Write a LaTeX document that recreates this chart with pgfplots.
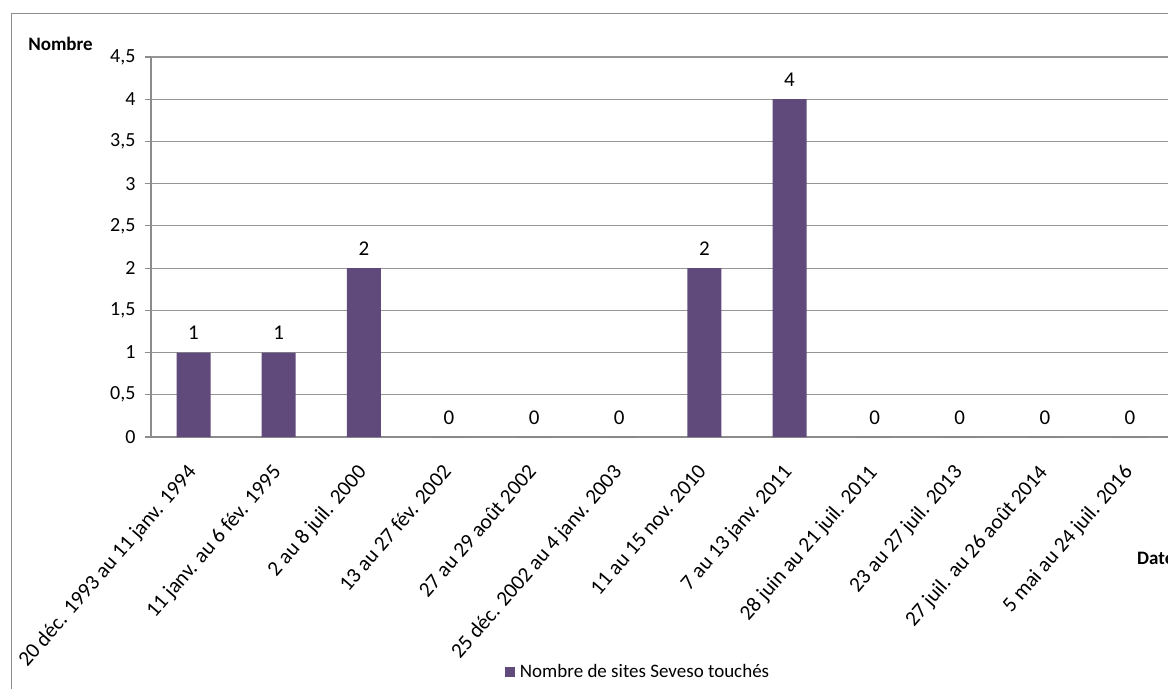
\documentclass[border=0pt]{standalone}
\usepackage{pgfplots}
\pgfplotsset{compat=1.18}
\usepackage{pgfplotstable}
\usepackage{fontspec}
\setmainfont{Carlito}

\definecolor{barpurple}{HTML}{604A7B}
\definecolor{axisgray}{HTML}{8C8C8C}
\definecolor{gridgray}{HTML}{969696}
\newcommand\chartfont{\fontsize{19bp}{23bp}\selectfont}
\newcommand\ytickfont{\fontsize{20bp}{24bp}\selectfont}
\newcommand\xtickfont{\fontsize{21.3bp}{25bp}\selectfont}
\newcommand\valuefont{\fontsize{21bp}{25bp}\selectfont}

% Number of Seveso sites affected, one row per flood episode
\pgfplotstableread{
idx value
0 1
1 1
2 2
3 0
4 0
5 0
6 2
7 4
8 0
9 0
10 0
11 0
}\seveso

\begin{document}
\begin{tikzpicture}
\useasboundingbox (0bp,0bp) rectangle (1168bp,689bp);
\clip (0bp,0bp) rectangle (1168bp,689bp);
% chart frame
\draw[axisgray, line width=1bp] (11bp,0bp) -- (11bp,675bp) -- (1168bp,675bp);
\begin{axis}[
  at={(151bp,252bp)}, anchor=south west,
  scale only axis, width=1016.5bp, height=380bp,
  clip=false,
  ybar, bar width=34bp,
  xmin=-0.5, xmax=11.44, ymin=0, ymax=4.5,
  axis x line*=bottom, axis y line*=left,
  axis line style={axisgray, line width=1.2bp},
  /pgf/number format/assume math mode=true,
  ytick={0,0.5,...,4.5},
  ymajorgrids, major grid style={gridgray, line width=1.2bp},
  major tick length=6bp, tick align=outside,
  tick style={axisgray, line width=1.2bp},
  xtick={0,...,11},
  xtick style={draw=none},
  extra x ticks={-0.5,0.5,...,10.5},
  extra x tick labels={},
  extra x tick style={grid=none, tick style={draw=axisgray, line width=1.2bp}},
  xticklabels={
    20 déc. 1993 au 11 janv. 1994,
    11 janv. au 6 fév. 1995,
    2 au 8 juil. 2000,
    13 au 27 fév. 2002,
    27 au 29 août 2002,
    25 déc. 2002 au 4 janv. 2003,
    11 au 15 nov. 2010,
    7 au 13 janv. 2011,
    28 juin au 21 juil. 2011,
    23 au 27 juil. 2013,
    27 juil. au 26 août 2014,
    5 mai au 24 juil. 2016},
  tick label style={text=black},
  xticklabel style={font=\xtickfont, xshift=-8bp, yshift=-17bp, rotate=49, anchor=north east, inner sep=2bp},
  yticklabel style={font=\ytickfont, xshift=-6bp, /pgf/number format/.cd, use comma, fixed},
  ylabel={\bfseries Nombre},
  ylabel style={at={(rel axis cs:-0.089,1.034)}, anchor=center, rotate=-90, font=\chartfont},
  nodes near coords,
  every node near coord/.append style={anchor=base, yshift=13bp, inner sep=0pt, font=\valuefont, text=black},
  legend style={at={(0.348,-0.6184)}, anchor=west, draw=none, fill=none,
    font=\chartfont, inner sep=0pt},
  legend cell align=left,
  legend image code/.code={\fill[barpurple] (0bp,-5.3bp) rectangle (10.5bp,5.3bp); \path (13bp,0bp);},
]
\addplot[fill=barpurple, draw=none] table[x=idx, y=value]{\seveso};
\legend{Nombre de sites Seveso touchés}
\end{axis}
\node[anchor=west, font=\chartfont\bfseries, inner sep=0pt] at (1137bp,131bp) {Date};
\end{tikzpicture}
\end{document}
